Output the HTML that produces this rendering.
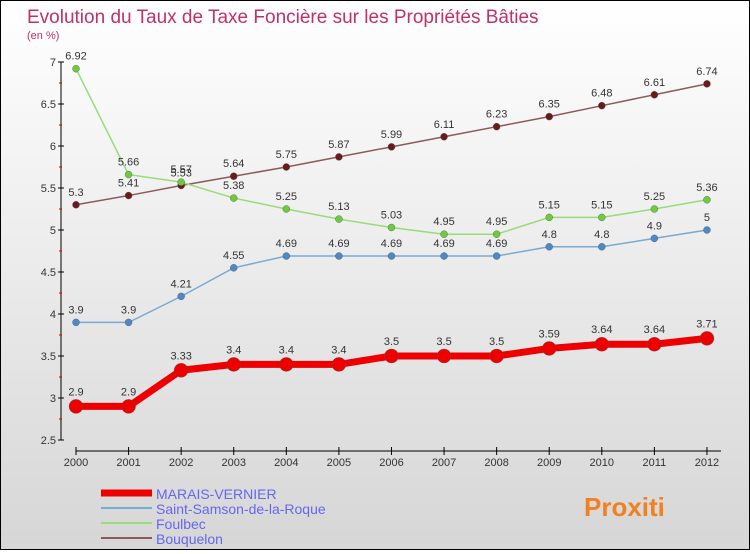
<!DOCTYPE html>
<html><head><meta charset="utf-8"><style>
body{margin:0}
#c{width:748px;height:548px;border:1px solid #000;background:linear-gradient(#fff,#d6d6d6);position:relative;font-family:"Liberation Sans",sans-serif}
</style></head><body>
<div id="c">
<svg id="s" width="748" height="548" xmlns="http://www.w3.org/2000/svg">
<text x="26" y="22" font-size="19" fill="#c0306a">Evolution du Taux de Taxe Foncière sur les Propriétés Bâties</text>
<text x="26" y="38" font-size="11" fill="#c0306a">(en %)</text>
<g id="g"></g>
</svg>
</div>
<script>
const years=[2000,2001,2002,2003,2004,2005,2006,2007,2008,2009,2010,2011,2012];
const marais=[2.9,2.9,3.33,3.4,3.4,3.4,3.5,3.5,3.5,3.59,3.64,3.64,3.71];
const samson=[3.9,3.9,4.21,4.55,4.69,4.69,4.69,4.69,4.69,4.8,4.8,4.9,5];
const foulbec=[6.92,5.66,5.57,5.38,5.25,5.13,5.03,4.95,4.95,5.15,5.15,5.25,5.36];
const bouquelon=[5.3,5.41,5.53,5.64,5.75,5.87,5.99,6.11,6.23,6.35,6.48,6.61,6.74];
const yTicks=[2.5,3,3.5,4,4.5,5,5.5,6,6.5,7];
const names=["MARAIS-VERNIER","Saint-Samson-de-la-Roque","Foulbec","Bouquelon"];
const NS="http://www.w3.org/2000/svg",g=document.getElementById('g');
const X=i=>75+i*52.58, Y=v=>439-(v-2.5)*84;
function el(t,a,txt){const e=document.createElementNS(NS,t);for(const k in a)e.setAttribute(k,a[k]);if(txt!==undefined)e.textContent=txt;g.appendChild(e);return e;}
let a=el('line',{x1:60,y1:Y(7),x2:60,y2:Y(2.5),stroke:'#000'});

a=el('line',{x1:75,y1:450,x2:720,y2:450,stroke:'#000'});

yTicks.forEach((v,i)=>{
 let t=el('line',{x1:57,y1:Y(v),x2:63,y2:Y(v),stroke:'#000'});
 
 if(i<yTicks.length-1){let m=el('line',{x1:58,y1:Y(v+0.25),x2:61,y2:Y(v+0.25),stroke:'#d00'});
 }
 let l=el('text',{x:55,y:Y(v)+4,'font-size':11,fill:'#333','text-anchor':'end'},String(v));
 
});
years.forEach((yr,i)=>{
 let t=el('line',{x1:X(i),y1:446,x2:X(i),y2:454,stroke:'#000'});
 
 let l=el('text',{x:X(i),y:465,'font-size':11,fill:'#333','text-anchor':'middle'},String(yr));
 
});
const series=[[bouquelon,'#8b5a5a','#6a1a1a',1.5,3.5],[foulbec,'#98dc78','#6ccc3c',1.5,3.5],[samson,'#7aaad0','#4a8ac8',1.5,3.5],[marais,'#ee0000','#ee0000',7,7]];
series.forEach(([d,c,dc,w,r],si)=>{
 let p=el('polyline',{points:d.map((v,i)=>X(i)+','+Y(v)).join(' '),fill:'none',stroke:c,'stroke-width':w});
 
 d.forEach((v,i)=>{
  let m=el('circle',{cx:X(i),cy:Y(v),r:r,fill:dc,stroke:'#555','stroke-width':0.4});
  
  let t=el('text',{x:X(i),y:Y(v)-(r>5?11:9),'font-size':11,fill:'#333','text-anchor':'middle'},String(v));
  
 });
});
const lc=['#ee0000','#7aaad0','#98dc78','#8b5a5a'],lw=[7,2,2,2];
names.forEach((n,i)=>{
 const y=492+i*15;
 let l=el('line',{x1:100,y1:y,x2:151,y2:y,stroke:lc[i],'stroke-width':lw[i]});
 
 let t=el('text',{x:155,y:y+6,'font-size':14,fill:'#6666ee'},n);
 
});
let w=el('text',{x:583,y:515,'font-size':26,'font-weight':'bold',fill:'#f08020'},'Proxiti');

</script>
</body></html>
